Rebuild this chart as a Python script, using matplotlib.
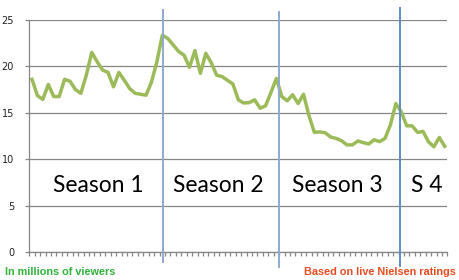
import numpy as np
import matplotlib
matplotlib.use("Agg")
import matplotlib.pyplot as plt

# viewers per episode, in millions
viewers = [18.6, 16.85, 16.45, 18.05, 16.75, 16.75, 18.6, 18.4, 17.5, 17.1,
           19.05, 21.5, 20.5, 19.6, 19.35, 17.8, 19.35, 18.5, 17.6, 17.1,
           17.0, 16.9, 18.3, 20.5, 23.35, 23.0, 22.3, 21.6, 21.2, 19.9,
           21.7, 19.25, 21.4, 20.4, 19.05, 18.9, 18.5, 18.1, 16.4, 16.05,
           16.1, 16.4, 15.5, 15.75, 17.2, 18.7, 16.75, 16.3, 16.95, 16.0,
           17.0, 14.7, 12.9, 12.95, 12.85, 12.4, 12.25, 12.0, 11.55, 11.55,
           11.97, 11.8, 11.65, 12.1, 11.9, 12.25, 13.7, 16.0, 15.1, 13.6,
           13.6, 12.9, 13.0, 11.9, 11.35, 12.35, 11.4]
season_breaks = [24.1, 45.4, 67.8]
season_names = ["Season 1", "Season 2", "Season 3", "S 4"]
season_mid = [12.25, 34.25, 56.25, 72.7]
yticks = [0, 5, 10, 15, 20, 25]

episodes = np.arange(len(viewers))

fig = plt.figure(figsize=(4.59, 2.8), dpi=100)
ax = fig.add_axes([0.0638, 0.099, 0.911, 0.830])

grid_col = "#868686"
for y in yticks:
    ax.axhline(y, color=grid_col, lw=0.9, zorder=1)

ax.plot(episodes, viewers, color="#9bbb59", lw=2.5, solid_joinstyle="round",
        zorder=2)

break_cols = ["#8eaad2", "#8eaad2", "#5f8cc6"]
for xb, c, lo, hi in zip(season_breaks, break_cols, [-0.042, -0.062, -0.06],
                         [1.042, 1.033, 1.05]):
    ax.axvline(xb, ymin=lo, ymax=hi, color=c, lw=1.4, clip_on=False, zorder=3)

for name, xm in zip(season_names, season_mid):
    ax.text(xm, 7.15, name, ha="center", va="center", fontsize=16.4,
            family="Lato", color="black", zorder=4)

ax.set_xlim(-0.5, len(viewers) - 0.5)
ax.set_ylim(0, 25)
ax.set_yticks(yticks)
ax.set_xticks([])
ax.set_xticks(np.arange(-0.5, len(viewers)), minor=True)
ax.tick_params(axis="x", which="minor", direction="out", length=3,
               width=0.9, color=grid_col)
ax.tick_params(axis="y", direction="out", length=3, width=0.9,
               color=grid_col, labelsize=7, labelcolor="#222222", pad=8)
for lab in ax.get_yticklabels():
    lab.set_family("DejaVu Sans")

for side in ["top", "right"]:
    ax.spines[side].set_visible(False)
ax.spines["bottom"].set_color(grid_col)
ax.spines["left"].set_color(grid_col)
ax.spines["bottom"].set_linewidth(0.9)
ax.spines["left"].set_linewidth(0.9)

fig.text(5 / 459, 1 - 272 / 280, "In millions of viewers", ha="left",
         va="center", fontsize=7.8, fontweight="bold", color="#2fb33a",
         family="Liberation Sans")
fig.text(456 / 459, 1 - 272 / 280, "Based on live Nielsen ratings",
         ha="right", va="center", fontsize=7.8, fontweight="bold",
         color="#ea4a1f", family="Liberation Sans")

fig.savefig("out.png", dpi=100)
